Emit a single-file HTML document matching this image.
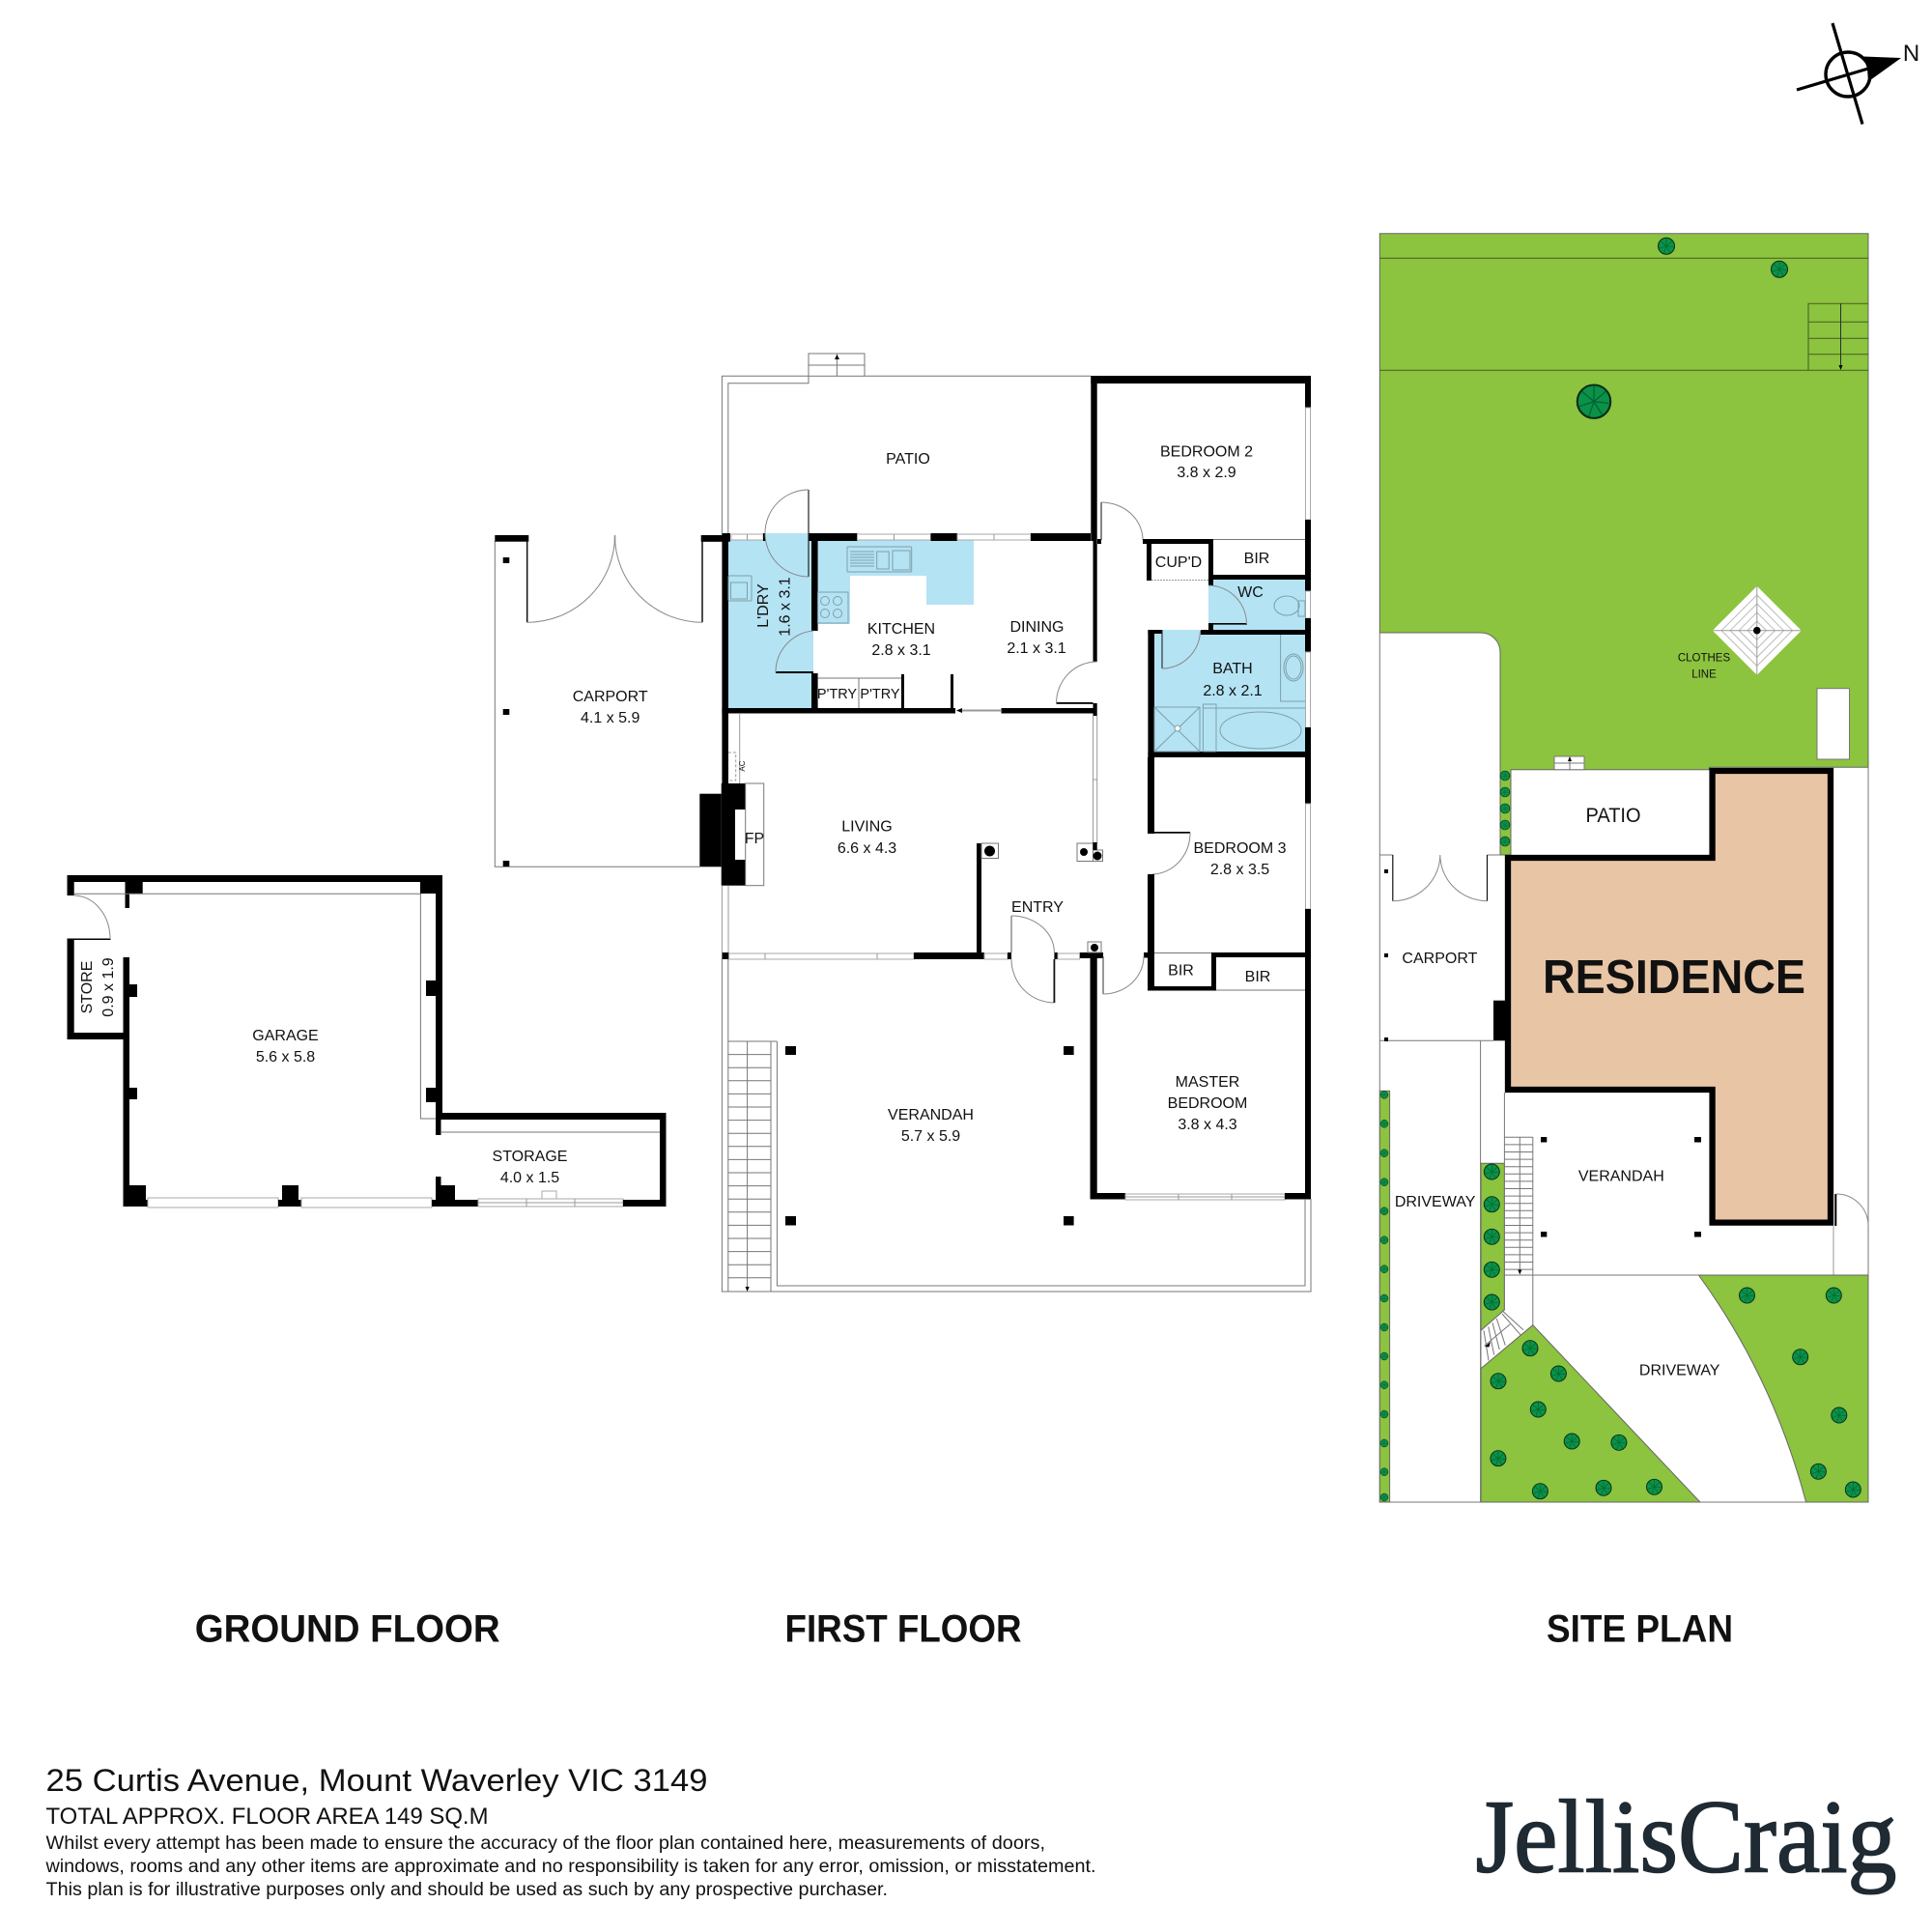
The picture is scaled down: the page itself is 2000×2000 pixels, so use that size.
<!DOCTYPE html>
<html><head><meta charset="utf-8"><style>
html,body{margin:0;padding:0;background:#fff;width:2000px;height:2000px;overflow:hidden}
svg{display:block}
text{font-family:"Liberation Sans",sans-serif;fill:#111}
.l{font-size:16px;text-anchor:middle}
.th{fill:none;stroke:#777;stroke-width:1}
.gy{fill:none;stroke:#999;stroke-width:1}
.arc{fill:none;stroke:#888;stroke-width:1}
.win{fill:#fff;stroke:#aaa;stroke-width:1}
.b{fill:#000}
.g{fill:#8cc33f;stroke:#666;stroke-width:1}
.blue{fill:#b4e3f4}
.fx{fill:none;stroke:#7f9fa8;stroke-width:1}
.t{font-weight:bold;font-size:40px;text-anchor:middle}
</style></head><body>
<svg width="2000" height="2000" viewBox="0 0 2000 2000" xmlns="http://www.w3.org/2000/svg">
<defs>
<g id="t"><circle r="10" fill="#0b9148" stroke="#0b2b18" stroke-width="1.2"/><path d="M0 0L0-9M0 0L7-6M0 0L9 1M0 0L5 8M0 0L-3 9M0 0L-9 3M0 0L-7-6" stroke="#063" stroke-width=".8"/></g>
</defs>
<rect width="2000" height="2000" fill="#fff"/>

<!-- compass -->
<g stroke="#000" fill="none">
<circle cx="1913" cy="77" r="23" stroke-width="3.4"/>
<path d="M1897 24L1928 128.5M1860 93L1934 71" stroke-width="3.2"/>
</g>
<path class="b" d="M1929 58.5L1968 60L1934 84.5L1933 71Z"/>
<text x="1978.5" y="63" style="font-size:24px;text-anchor:middle">N</text>

<!-- GROUND FLOOR PLAN -->
<g>
<rect class="b" x="69.5" y="906" width="388.5" height="7"/>
<rect class="b" x="69.5" y="906" width="7.2" height="21"/>
<rect class="b" x="129.5" y="913" width="18.2" height="12"/>
<rect class="b" x="129.5" y="925" width="4.5" height="15"/>
<rect class="b" x="435" y="906" width="23" height="19"/>
<rect class="b" x="451" y="906" width="7" height="246"/>
<rect class="b" x="451" y="1152" width="5.5" height="23"/>
<path class="th" d="M76.7 925.3H435M435.4 925V1158H451"/>
<rect class="b" x="441" y="1015" width="10" height="16"/>
<rect class="b" x="441" y="1126" width="10" height="15"/>
<rect class="b" x="127.5" y="991" width="6.5" height="258"/>
<rect class="b" x="134" y="1019" width="8" height="13"/>
<rect class="b" x="134" y="1126" width="8" height="12"/>
<rect class="b" x="69.5" y="972" width="7.2" height="104"/>
<rect class="b" x="69.5" y="1069" width="60" height="7"/>
<rect class="b" x="69.5" y="971.5" width="45" height="1.5"/>
<path class="arc" d="M76.7 927A37.5 45 0 0 1 114 972"/>
<rect class="b" x="127.5" y="1242" width="26" height="7"/>
<rect class="b" x="127.5" y="1227" width="23.5" height="22"/>
<rect class="win" x="153" y="1240" width="135" height="10"/>
<rect class="b" x="288" y="1242" width="24" height="7"/>
<rect class="b" x="292" y="1227" width="17" height="15"/>
<rect class="win" x="312" y="1240" width="135" height="10"/>
<rect class="b" x="447" y="1242" width="48" height="7"/>
<rect class="b" x="451" y="1218" width="5.5" height="24"/>
<rect class="b" x="456.5" y="1227" width="14.5" height="15"/>
<rect class="win" x="495" y="1241" width="150" height="8"/>
<path class="gy" d="M495 1245H645M545 1241V1249M595 1241V1249"/>
<rect class="win" x="561" y="1233" width="15" height="8"/>
<rect class="b" x="645" y="1242" width="44.5" height="7"/>
<rect class="b" x="456" y="1152" width="233.5" height="7"/>
<rect class="b" x="683" y="1152" width="6.5" height="97"/>
<path class="th" d="M456 1172H683"/>
<text class="l" x="295.5" y="1077">GARAGE</text>
<text class="l" x="295.5" y="1099">5.6 x 5.8</text>
<text class="l" x="548.5" y="1202">STORAGE</text>
<text class="l" x="548.5" y="1224">4.0 x 1.5</text>
<text class="l" transform="rotate(-90 95 1022)" x="95" y="1022">STORE</text>
<text class="l" transform="rotate(-90 117 1022)" x="117" y="1022">0.9 x 1.9</text>
</g>

<!-- CARPORT FF -->
<g>
<path class="th" d="M512.3 560V897.3H724.3"/>
<rect class="b" x="512.3" y="554" width="35" height="6.7"/>
<rect class="b" x="725.7" y="554" width="21" height="6.7"/>
<rect class="b" x="520.7" y="577" width="6.6" height="6"/>
<rect class="b" x="520.7" y="734" width="6.6" height="6"/>
<rect class="b" x="520.7" y="891" width="6.6" height="6"/>
<path d="M545.7 560V644.3M727 560V644.3" stroke="#111" stroke-width="1.5" fill="none"/>
<path d="M636.5 554V561" stroke="#111" stroke-width="1.2" fill="none"/>
<path class="arc" d="M545.7 644.3A91 90 0 0 0 636.5 554A91 90 0 0 0 727 644.3"/>
<text class="l" x="631.7" y="726">CARPORT</text>
<text class="l" x="631.7" y="748">4.1 x 5.9</text>
</g>

<!-- FIRST FLOOR blue -->
<rect class="blue" x="754" y="559" width="88" height="174"/>
<rect class="blue" x="792" y="552" width="45" height="8"/>
<path class="blue" d="M846.6 559H1008V626H959V596H880V646H846.6Z"/>
<path class="blue" d="M1251 600H1351V652H1251Z"/>
<rect class="blue" x="1195" y="652" width="156" height="126"/>

<g>
<!-- patio -->
<path class="th" d="M747.4 552V389.3H837M895 389.3H1129M753.8 552V396.7H837V389.3"/>
<rect x="837" y="366" width="58" height="23.3" class="th"/>
<path class="th" d="M837 378H895M866.4 366V389"/>
<path class="b" d="M866.4 367L864 372H869Z"/>

<!-- top & walls -->
<rect class="b" x="1129.3" y="389" width="227.7" height="8"/>
<rect class="b" x="1129.3" y="389" width="6.4" height="171"/>
<rect class="b" x="1351" y="389" width="6" height="33"/>
<rect class="win" x="1351.5" y="422" width="5" height="116"/>
<rect class="b" x="1351" y="538" width="6" height="74"/>
<rect class="win" x="1351.5" y="612" width="5" height="28"/>
<rect class="b" x="1351" y="640" width="6" height="35"/>
<rect class="win" x="1351.5" y="675" width="5" height="78"/>
<rect class="b" x="1351" y="753" width="6" height="79"/>
<rect class="win" x="1351.5" y="832" width="5" height="109"/>
<rect class="b" x="1351" y="941" width="6" height="300"/>

<!-- row y=552 -->
<rect class="b" x="726" y="554" width="30" height="6.7"/>
<rect class="b" x="747.4" y="552" width="8.6" height="8"/>
<rect class="win" x="757" y="553" width="33" height="6"/>
<rect class="b" x="790" y="552" width="2.5" height="8"/>
<rect class="b" x="837" y="552" width="50.5" height="8"/>
<rect class="win" x="887.5" y="553" width="76" height="6"/>
<rect class="b" x="963.5" y="552" width="27.5" height="8"/>
<rect class="win" x="991" y="553" width="76" height="6"/>
<rect class="b" x="1067" y="552" width="62" height="8"/>
<path class="gy" d="M925.5 553V559M1029 553V559M773.5 553V559"/>

<!-- laundry door -->
<path d="M837 507V597" stroke="#222" stroke-width="1.2" fill="none"/>
<path class="arc" d="M837 507A45 45 0 0 0 837 597"/>

<!-- left wall -->
<rect class="b" x="747.4" y="552" width="6.6" height="259"/>
<rect class="b" x="840" y="559" width="6.6" height="94"/>
<rect class="b" x="840" y="697" width="6.6" height="38"/>
<rect class="b" x="803" y="695" width="39" height="2"/>
<path class="arc" d="M842 653A43 43 0 0 0 803 696"/>

<!-- bottom row kitchen -->
<rect class="b" x="747.4" y="733" width="241.6" height="5.5"/>
<rect class="b" x="1036.5" y="733" width="96.5" height="5.5"/>
<path d="M996 735.5H1036" stroke="#999" stroke-width="2" fill="none"/>
<path class="b" d="M990 735.5L996 733V738Z"/>
<path class="th" d="M846.6 702H933M889 702V733"/>
<rect class="b" x="933" y="698" width="3" height="35"/>
<rect class="b" x="984" y="698" width="3" height="35"/>

<!-- kitchen fixtures -->
<rect class="fx" x="877" y="566" width="66.7" height="26" rx="1"/>
<rect class="fx" x="907.7" y="571" width="12.5" height="18"/>
<rect class="fx" x="924" y="570" width="18" height="20"/>
<path class="fx" d="M880 571H905M880 574H905M880 577H905M880 580H905M880 583H905M880 586H905"/>
<rect class="fx" x="846.6" y="613" width="31.4" height="32"/>
<g class="fx"><circle cx="854" cy="622" r="4.5"/><circle cx="867" cy="622" r="4.5"/><circle cx="854" cy="635" r="4.5"/><circle cx="867" cy="635" r="4.5"/></g>
<rect class="fx" x="754" y="596" width="24" height="26" rx="1"/>
<rect class="fx" x="756.5" y="603" width="17" height="17"/>

<!-- dining wall & door -->
<rect class="b" x="1131.5" y="560" width="4.2" height="125"/>
<rect class="b" x="1093.5" y="727" width="38" height="1.8"/>
<rect class="b" x="1131.5" y="728" width="4.2" height="13"/>
<path class="arc" d="M1135 685A42 43 0 0 0 1093.5 727.7"/>
<path class="gy" d="M1131.5 741V873M1135.7 741V873M1131.5 807H1135.7"/>

<!-- bedroom2 door + cupd -->
<rect class="b" x="1136" y="558" width="4" height="5"/>
<path d="M1140 520V559" stroke="#333" stroke-width="1.2"/>
<path class="arc" d="M1140 520A43 39 0 0 1 1183 559"/>
<rect class="b" x="1183" y="558" width="73" height="5"/>
<rect class="b" x="1187" y="563" width="5" height="38"/>
<rect class="b" x="1251" y="558" width="5" height="48"/>
<path class="gy" d="M1192 600.5H1251" stroke-dasharray="2 1"/>
<path class="th" d="M1256 558.5H1351"/>
<rect class="b" x="1251" y="595" width="100" height="5"/>

<!-- WC -->
<rect class="b" x="1251" y="645" width="40" height="1.6"/>
<path class="arc" d="M1251 606A40 40 0 0 1 1290.5 646"/>
<rect class="b" x="1251" y="646" width="5" height="11"/>
<rect class="b" x="1243" y="652" width="114" height="5"/>
<ellipse class="fx" cx="1332" cy="627" rx="13" ry="10"/>
<rect class="fx" x="1344" y="622" width="7" height="16"/>

<!-- bath -->
<rect class="b" x="1188.4" y="652" width="6.6" height="132"/>
<rect class="b" x="1188.4" y="652" width="14.6" height="4"/>
<rect class="b" x="1188.4" y="778" width="168.6" height="6"/>
<path d="M1203 652V692" stroke="#333" stroke-width="1.2"/>
<path class="arc" d="M1203 692A40 40 0 0 0 1242.5 653"/>
<path class="fx" d="M1325.6 657V726H1351M1245 733H1351"/>
<ellipse class="fx" cx="1339" cy="691" rx="10" ry="14"/>
<ellipse class="fx" cx="1339" cy="691" rx="8" ry="12"/>
<rect class="fx" x="1195" y="732" width="47" height="46"/>
<path class="fx" d="M1195 732L1242 778M1242 732L1195 778"/>
<circle cx="1219" cy="754" r="3" fill="#fff" stroke="#7f9fa8"/>
<rect class="fx" x="1245.4" y="729" width="13.6" height="49"/>
<ellipse class="fx" cx="1305" cy="756" rx="42" ry="19"/>

<!-- bedroom3 -->
<rect class="b" x="1188" y="784" width="7" height="79"/>
<rect class="b" x="1188" y="861" width="44" height="1.7"/>
<path class="arc" d="M1232 862A40 43 0 0 1 1193 905"/>
<rect class="b" x="1188" y="905" width="7" height="81"/>
<rect class="b" x="1254" y="986" width="103" height="5"/>
<rect class="b" x="1254" y="986" width="5" height="39"/>
<rect class="b" x="1188" y="986" width="7" height="39"/>
<rect class="b" x="1184" y="986" width="11" height="5.5"/>
<rect class="b" x="1188" y="1021" width="71" height="4.5"/>
<path class="th" d="M1195 986.5H1254M1259 1025H1351"/>

<!-- master -->
<rect class="b" x="1128.5" y="986" width="7.2" height="255.5"/>
<rect class="b" x="1117.5" y="986" width="24.5" height="6"/>
<path d="M1142 990V1029" stroke="#555" stroke-width="1.2"/>
<path class="arc" d="M1142 1029A42 39 0 0 0 1184 990"/>
<rect class="b" x="1128.5" y="1235" width="36.5" height="6.5"/>
<rect class="win" x="1165" y="1236" width="165" height="6"/>
<path class="gy" d="M1165 1239H1330M1220 1236V1242M1275 1236V1242"/>
<rect class="b" x="1330" y="1235" width="27" height="6.5"/>

<!-- verandah -->
<path class="th" d="M1357 1241V1337H747.4V993M753.8 993V1337M804.4 1078V1331H1351V1241M753.8 1078H804.4"/>
<path class="th" d="M798 1078V1337M773.6 1078V1334M753.8 1091.6H798M753.8 1105.2H798M753.8 1118.8H798M753.8 1132.4H798M753.8 1146H798M753.8 1159.6H798M753.8 1173.2H798M753.8 1186.8H798M753.8 1200.4H798M753.8 1214H798M753.8 1227.6H798M753.8 1241.2H798M753.8 1254.8H798M753.8 1268.4H798M753.8 1282H798M753.8 1295.6H798M753.8 1309.2H798M753.8 1322.8H798"/>
<path class="b" d="M773.6 1337L771.5 1332H775.7Z"/>
<rect class="b" x="813" y="1083" width="11" height="9"/>
<rect class="b" x="1101" y="1083" width="10.6" height="9"/>
<rect class="b" x="813" y="1259" width="11" height="9.5"/>
<rect class="b" x="1101" y="1259" width="10.6" height="9.5"/>

<!-- living row -->
<rect class="b" x="747.4" y="986" width="7.2" height="7"/>
<rect class="win" x="754.6" y="987" width="191.4" height="6"/>
<path class="gy" d="M792 987V993M908 987V993"/>
<rect class="b" x="946" y="986" width="73" height="7"/>
<rect class="win" x="1019" y="987" width="24" height="6"/>
<rect class="b" x="1043" y="986" width="4" height="7"/>
<rect class="b" x="1091.4" y="986" width="3.6" height="7"/>
<rect class="win" x="1095" y="987" width="22.5" height="6"/>
<rect class="b" x="1011" y="873" width="5" height="113"/>
<rect class="th" x="1016" y="873" width="17.5" height="15.5"/>
<circle class="b" cx="1024.5" cy="881" r="5.5"/>
<path d="M1047 948V986" stroke="#555" stroke-width="1"/>
<path class="arc" d="M1047 948A44.4 38 0 0 1 1091.4 986"/>
<path class="arc" d="M1047 993A44.4 45 0 0 0 1091.4 1038"/>
<path d="M1091.4 993V1038" stroke="#111" stroke-width="1.8"/>
<rect class="th" x="1115" y="873" width="16.5" height="18.5"/>
<rect class="th" x="1131.5" y="880" width="10" height="11.5"/>
<circle class="b" cx="1122" cy="882" r="4"/>
<circle class="b" cx="1136" cy="886" r="4.5"/>
<rect class="b" x="1131.5" y="872" width="4.2" height="8"/>
<rect class="th" x="1126" y="975" width="14" height="11"/>
<circle class="b" cx="1133" cy="981" r="4"/>

<!-- AC + fireplace -->
<path class="gy" d="M754 779H761.7V808H754" stroke-dasharray="3 2"/>
<path class="gy" d="M765.7 738V811"/>
<text x="771" y="793" transform="rotate(-90 771 793)" style="font-size:8px;text-anchor:middle">AC</text>
<rect class="b" x="724.3" y="821.7" width="22.4" height="75.6"/>
<rect class="b" x="746.7" y="811" width="25" height="105.7"/>
<rect x="761" y="838" width="10.7" height="52" fill="#fff"/>
<rect class="th" x="771.7" y="811" width="19" height="105.7"/>
<text class="l" x="781" y="873">FP</text>
<path class="gy" d="M747.4 917V986M754 917V986"/>
</g>

<g>
<text class="l" x="940" y="480">PATIO</text>
<text class="l" x="1249" y="472.5">BEDROOM 2</text>
<text class="l" x="1249" y="494">3.8 x 2.9</text>
<text class="l" x="933" y="656">KITCHEN</text>
<text class="l" x="933" y="678">2.8 x 3.1</text>
<text class="l" x="1073.5" y="654">DINING</text>
<text class="l" x="1073" y="676">2.1 x 3.1</text>
<text class="l" x="1220" y="587">CUP'D</text>
<text class="l" x="1301" y="583">BIR</text>
<text class="l" x="1294.5" y="618">WC</text>
<text class="l" x="1276" y="697">BATH</text>
<text class="l" x="1276" y="720">2.8 x 2.1</text>
<text class="l" x="795" y="627" transform="rotate(-90 795 627)">L'DRY</text>
<text class="l" x="817.5" y="628" transform="rotate(-90 817.5 628)">1.6 x 3.1</text>
<text class="l" x="866.5" y="723" style="font-size:14.5px">P'TRY</text>
<text class="l" x="911" y="723" style="font-size:14.5px">P'TRY</text>
<text class="l" x="897.5" y="860.5">LIVING</text>
<text class="l" x="897.5" y="883">6.6 x 4.3</text>
<text class="l" x="1074" y="944">ENTRY</text>
<text class="l" x="1283.5" y="883">BEDROOM 3</text>
<text class="l" x="1283.5" y="905">2.8 x 3.5</text>
<text class="l" x="1222.5" y="1009.5">BIR</text>
<text class="l" x="1302" y="1016">BIR</text>
<text class="l" x="1250" y="1125">MASTER</text>
<text class="l" x="1250" y="1147">BEDROOM</text>
<text class="l" x="1250" y="1169">3.8 x 4.3</text>
<text class="l" x="963.5" y="1159">VERANDAH</text>
<text class="l" x="963.5" y="1181">5.7 x 5.9</text>
</g>

<!-- SITE PLAN -->
<g>
<path class="g" d="M1428.3 241.7H1934V794.3H1769.5V796.7H1564V885H1553V675A20 20 0 0 0 1533 655H1428.3Z"/>
<path d="M1428.3 267.3H1934M1428.3 383.3H1934" stroke="#4d6b22" stroke-width="1.2" fill="none"/>
<path d="M1872 383V314.3H1934M1872 333.3H1934M1872 350.3H1934M1872 366.7H1934" stroke="#4d6b22" stroke-width="1.2" fill="none"/>
<path d="M1905.5 314.3V380" stroke="#233" stroke-width="1" fill="none"/>
<path class="b" d="M1905.5 383L1903.5 378H1907.5Z"/>
<use href="#t" transform="translate(1725 254.7) scale(.85)"/>
<use href="#t" transform="translate(1842 278.7) scale(.85)"/>
<use href="#t" transform="translate(1650 415.7) scale(1.72)"/>
<!-- clothes line -->
<path d="M1818.8 606.7L1864.8 652.7L1818.8 698.7L1772.8 652.7Z" fill="#fff"/>
<path d="M1818.8 616L1855.5 652.7L1818.8 689.4L1782.1 652.7ZM1818.8 625L1846.5 652.7L1818.8 680.4L1791.1 652.7ZM1818.8 634L1837.5 652.7L1818.8 671.4L1800.1 652.7ZM1818.8 643L1828.5 652.7L1818.8 662.4L1809.1 652.7Z" fill="none" stroke="#bbb"/>
<path d="M1818.8 606.7V698.7M1772.8 652.7H1864.8" stroke="#999" fill="none"/>
<circle class="b" cx="1818.8" cy="652.7" r="3.8"/>
<text x="1764" y="684.7" style="font-size:11.5px;text-anchor:middle">CLOTHES</text>
<text x="1764" y="701.5" style="font-size:11.5px;text-anchor:middle">LINE</text>
<rect x="1881" y="712.7" width="33.5" height="73.3" fill="#fff" stroke="#777"/>
<rect x="1609" y="783" width="31" height="13.7" fill="#fff" stroke="#777"/>
<path class="th" d="M1609 790H1640M1625 784V796.7"/>
<path class="b" d="M1625 783L1623 788H1627Z"/>
<!-- hedge1 trees -->
<use href="#t" transform="translate(1558 803) scale(.5)"/>
<use href="#t" transform="translate(1558 820) scale(.5)"/>
<use href="#t" transform="translate(1558 837) scale(.5)"/>
<use href="#t" transform="translate(1558 854) scale(.5)"/>
<use href="#t" transform="translate(1558 871) scale(.5)"/>

<!-- residence -->
<path d="M1772.6 798H1895V1265.6H1772.6V1128H1561V888H1772.6Z" fill="#e8c5a5" stroke="#000" stroke-width="6.3"/>
<text x="1733" y="1028" style="font-weight:bold;font-size:49px;text-anchor:middle" textLength="272" lengthAdjust="spacingAndGlyphs">RESIDENCE</text>
<text x="1670" y="851" style="font-size:21px;text-anchor:middle" textLength="57" lengthAdjust="spacingAndGlyphs">PATIO</text>

<!-- carport -->
<path class="th" d="M1428.3 655V1555H1934V794.3M1428.3 885H1441.8M1539.5 885H1553M1428.3 1077.3H1546M1532.6 1077V1555"/>
<path d="M1441.8 885V932.7M1539.5 885V932.7" stroke="#111" stroke-width="1.2" fill="none"/>
<path class="arc" d="M1441.8 932.7A49 48 0 0 0 1490.8 885A49 48 0 0 0 1539.5 932.7"/>
<rect class="b" x="1433" y="900" width="4" height="4"/>
<rect class="b" x="1433" y="987" width="4" height="4"/>
<rect class="b" x="1433" y="1074" width="4" height="4"/>
<text class="l" x="1490.4" y="997">CARPORT</text>
<rect class="b" x="1546" y="1035.7" width="12" height="41.6"/>

<!-- hedge left -->
<rect class="g" x="1428.3" y="1129.3" width="10.3" height="425.7"/>
<use href="#t" transform="translate(1433 1133.3) scale(.4)"/>
<use href="#t" transform="translate(1433 1163.3) scale(.4)"/>
<use href="#t" transform="translate(1433 1193.7) scale(.4)"/>
<use href="#t" transform="translate(1433 1223.7) scale(.4)"/>
<use href="#t" transform="translate(1433 1253.7) scale(.4)"/>
<use href="#t" transform="translate(1433 1283.7) scale(.4)"/>
<use href="#t" transform="translate(1433 1313.7) scale(.4)"/>
<use href="#t" transform="translate(1433 1344) scale(.4)"/>
<use href="#t" transform="translate(1433 1374) scale(.4)"/>
<use href="#t" transform="translate(1433 1404) scale(.4)"/>
<use href="#t" transform="translate(1433 1433.7) scale(.4)"/>
<use href="#t" transform="translate(1433 1464) scale(.4)"/>
<use href="#t" transform="translate(1433 1494) scale(.4)"/>
<use href="#t" transform="translate(1433 1523.7) scale(.4)"/>
<use href="#t" transform="translate(1433 1550) scale(.4)"/>

<!-- hedge 2 -->
<path class="g" d="M1533 1204.3H1557.4V1356L1533 1377.3Z"/>
<use href="#t" transform="translate(1544.3 1213) scale(.8)"/>
<use href="#t" transform="translate(1544.3 1246.7) scale(.8)"/>
<use href="#t" transform="translate(1544.3 1280.3) scale(.8)"/>
<use href="#t" transform="translate(1544.3 1314.3) scale(.8)"/>
<use href="#t" transform="translate(1544.3 1348) scale(.8)"/>

<!-- verandah site -->
<path class="th" d="M1557.4 1131V1356M1586.8 1177.3V1371.7M1557.4 1320H1934M1557.4 1177.3H1586.8M1573.3 1177.3V1318"/>
<path class="th" d="M1557.4 1184.9H1586.8M1557.4 1192.5H1586.8M1557.4 1200.1H1586.8M1557.4 1207.7H1586.8M1557.4 1215.3H1586.8M1557.4 1222.9H1586.8M1557.4 1230.5H1586.8M1557.4 1238.1H1586.8M1557.4 1245.7H1586.8M1557.4 1253.3H1586.8M1557.4 1260.9H1586.8M1557.4 1268.5H1586.8M1557.4 1276.1H1586.8M1557.4 1283.7H1586.8M1557.4 1291.3H1586.8M1557.4 1298.9H1586.8M1557.4 1306.5H1586.8M1557.4 1314.1H1586.8"/>
<path class="b" d="M1573.3 1319.5L1571.3 1314.5H1575.3Z"/>
<rect class="b" x="1595" y="1177" width="6.3" height="5.5"/>
<rect class="b" x="1754" y="1177" width="7" height="5.5"/>
<rect class="b" x="1595" y="1275" width="6.3" height="5.5"/>
<rect class="b" x="1754" y="1275" width="7" height="5.5"/>
<text class="l" x="1678.3" y="1222.5">VERANDAH</text>
<text class="l" x="1485.6" y="1249">DRIVEWAY</text>
<text class="l" x="1738.7" y="1423.5">DRIVEWAY</text>
<rect class="b" x="1899.3" y="1236" width="2" height="33"/>
<path class="arc" d="M1900.7 1236A33 33 0 0 1 1934 1268.7"/>
<path class="gy" d="M1898 1268.7V1320"/>

<!-- spiral stairs -->
<path class="th" d="M1555 1356.7L1577 1376.7M1536 1377.3L1541 1408.5M1540.7 1373.3L1546.7 1402.7M1545 1369.3L1552.3 1397.3M1549.3 1365L1558.3 1392.7M1555 1360L1575.3 1383.3M1536.7 1393.3L1563.3 1370.7M1533 1377.3L1533 1416.7"/>
<path class="b" d="M1537 1394L1543 1389L1541.5 1394.5Z"/>

<!-- lower greens -->
<path class="g" d="M1533 1416.7L1586.8 1371.7L1760 1555H1533Z"/>
<path class="g" d="M1758.4 1320H1934V1555H1869.6Q1835 1425 1758.4 1320Z"/>
<use href="#t" transform="translate(1584 1395.7) scale(.8)"/>
<use href="#t" transform="translate(1613.4 1422) scale(.8)"/>
<use href="#t" transform="translate(1551 1429.7) scale(.8)"/>
<use href="#t" transform="translate(1592.3 1459) scale(.8)"/>
<use href="#t" transform="translate(1627.2 1492) scale(.8)"/>
<use href="#t" transform="translate(1675.9 1493.3) scale(.8)"/>
<use href="#t" transform="translate(1550.9 1509.7) scale(.8)"/>
<use href="#t" transform="translate(1594.4 1543.7) scale(.8)"/>
<use href="#t" transform="translate(1660 1540.3) scale(.8)"/>
<use href="#t" transform="translate(1712.5 1539.3) scale(.8)"/>
<use href="#t" transform="translate(1808.5 1341) scale(.8)"/>
<use href="#t" transform="translate(1898.3 1341) scale(.8)"/>
<use href="#t" transform="translate(1863.7 1404.7) scale(.8)"/>
<use href="#t" transform="translate(1903.8 1465) scale(.8)"/>
<use href="#t" transform="translate(1882.4 1523.3) scale(.8)"/>
<use href="#t" transform="translate(1918.3 1542) scale(.8)"/>
</g>

<!-- titles -->
<text class="t" x="359.7" y="1699.5" textLength="316" lengthAdjust="spacingAndGlyphs">GROUND FLOOR</text>
<text class="t" x="935" y="1699.5" textLength="245" lengthAdjust="spacingAndGlyphs">FIRST FLOOR</text>
<text class="t" x="1697.5" y="1699.5" textLength="193" lengthAdjust="spacingAndGlyphs">SITE PLAN</text>

<!-- footer -->
<text x="47.5" y="1854" style="font-size:32px" textLength="685" lengthAdjust="spacingAndGlyphs">25 Curtis Avenue, Mount Waverley VIC 3149</text>
<text x="47.5" y="1888" style="font-size:24px" textLength="458" lengthAdjust="spacingAndGlyphs">TOTAL APPROX. FLOOR AREA 149 SQ.M</text>
<text x="47.5" y="1914" style="font-size:19px" textLength="1034.5" lengthAdjust="spacingAndGlyphs">Whilst every attempt has been made to ensure the accuracy of the floor plan contained here, measurements of doors,</text>
<text x="47.5" y="1938" style="font-size:19px" textLength="1087" lengthAdjust="spacingAndGlyphs">windows, rooms and any other items are approximate and no responsibility is taken for any error, omission, or misstatement.</text>
<text x="47.5" y="1962" style="font-size:19px" textLength="871.5" lengthAdjust="spacingAndGlyphs">This plan is for illustrative purposes only and should be used as such by any prospective purchaser.</text>

<!-- logo -->
<text x="1527.5" y="1937.7" textLength="436" lengthAdjust="spacingAndGlyphs" style="font-family:'Liberation Serif',serif;font-size:108px;fill:#1f2a33;stroke:#1f2a33;stroke-width:1.6">JellisCraig</text>
</svg>
</body></html>
